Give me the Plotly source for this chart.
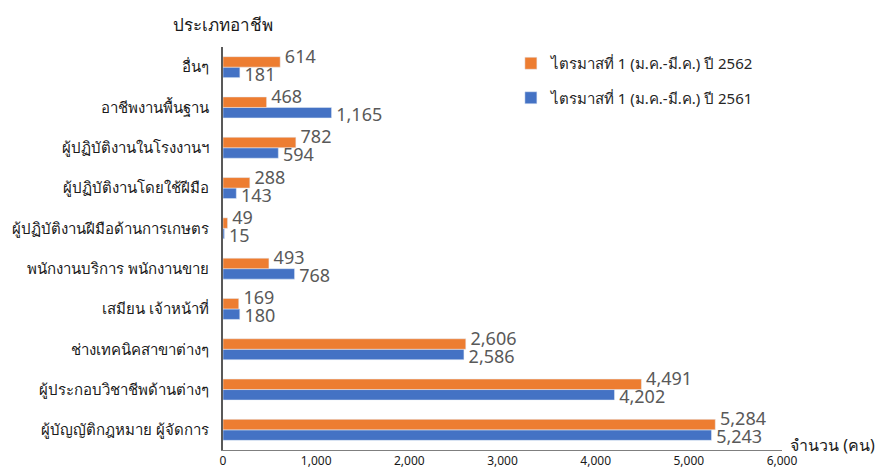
import plotly.graph_objects as go

categories = [
    "อื่นๆ",
    "อาชีพงานพื้นฐาน",
    "ผู้ปฏิบัติงานในโรงงานฯ",
    "ผู้ปฏิบัติงานโดยใช้ฝีมือ",
    "ผู้ปฏิบัติงานฝีมือด้านการเกษตร",
    "พนักงานบริการ พนักงานขาย",
    "เสมียน เจ้าหน้าที่",
    "ช่างเทคนิคสาขาต่างๆ",
    "ผู้ประกอบวิชาชีพด้านต่างๆ",
    "ผู้บัญญัติกฎหมาย ผู้จัดการ",
]
values_2562 = [614, 468, 782, 288, 49, 493, 169, 2606, 4491, 5284]
values_2561 = [181, 1165, 594, 143, 15, 768, 180, 2586, 4202, 5243]
name_2562 = "ไตรมาสที่ 1 (ม.ค.-มี.ค.) ปี 2562"
name_2561 = "ไตรมาสที่ 1 (ม.ค.-มี.ค.) ปี 2561"
x_ticks = [0, 1000, 2000, 3000, 4000, 5000, 6000]
x_ticktext = ["0", "1,000", "2,000", "3,000", "4,000", "5,000", "6,000"]

FONT = "Tahoma, 'Noto Sans', 'DejaVu Sans', sans-serif"
ORANGE = "#ED7D31"
BLUE = "#4472C4"

cats_r = categories[::-1]
v62 = values_2562[::-1]
v61 = values_2561[::-1]

fig = go.Figure()
fig.add_trace(go.Bar(
    y=cats_r, x=v61, orientation="h", name=name_2561,
    marker_color=BLUE, legendgroup="b", legendrank=2, hoverinfo="x",
))
fig.add_trace(go.Bar(
    y=cats_r, x=v62, orientation="h", name=name_2562,
    marker_color=ORANGE, legendgroup="a", legendrank=1, hoverinfo="x",
))
# value labels: orange label above the group centre, blue label below
fig.add_trace(go.Scatter(
    y=cats_r, x=v62, mode="text", text=[f" {v:,}" for v in v62],
    textposition="top right", showlegend=False, hoverinfo="skip", cliponaxis=False,
    textfont=dict(size=18, color="#595959", family=FONT),
))
fig.add_trace(go.Scatter(
    y=cats_r, x=v61, mode="text", text=[f" {v:,}" for v in v61],
    textposition="bottom right", showlegend=False, hoverinfo="skip", cliponaxis=False,
    textfont=dict(size=18, color="#595959", family=FONT),
))

fig.update_layout(
    width=882, height=472,
    margin=dict(l=223, r=100, t=47, b=22, autoexpand=False),
    paper_bgcolor="white", plot_bgcolor="white",
    barmode="group", bargap=0.48, bargroupgap=0,
    font=dict(family=FONT, color="#262626"),
    showlegend=True,
    legend=dict(
        x=0.515, y=1.0, xanchor="left", yanchor="top",
        traceorder="grouped", tracegroupgap=12,
        font=dict(size=15, color="#262626", family=FONT),
        bgcolor="rgba(0,0,0,0)", itemwidth=30,
    ),
    annotations=[
        dict(text="ประเภทอาชีพ", xref="paper", yref="paper",
             x=0.0, y=1 + 22 / 403, xanchor="center", yanchor="middle",
             showarrow=False, font=dict(size=17, color="#1a1a1a", family=FONT)),
        dict(text="จำนวน (คน)", xref="paper", yref="paper",
             x=1.01, y=0.012, xanchor="left", yanchor="middle",
             showarrow=False, font=dict(size=16, color="#1a1a1a", family=FONT)),
    ],
)
fig.update_xaxes(
    range=[0, 6000], tickvals=x_ticks, ticktext=x_ticktext, automargin=False,
    showgrid=False, zeroline=False, showline=True, linecolor="#7f7f7f", linewidth=1,
    tickfont=dict(size=12, color="#1a1a1a", family=FONT), ticks="",
)
fig.update_yaxes(
    automargin=False,
    showgrid=False, showline=True, linecolor="#595959", linewidth=2,
    tickfont=dict(size=15, color="#1a1a1a", family=FONT), ticks="",
    ticklabelstandoff=9,
)

fig.write_html("out.html", post_script="document.body.style.margin='0';",
               config={"displayModeBar": False})
